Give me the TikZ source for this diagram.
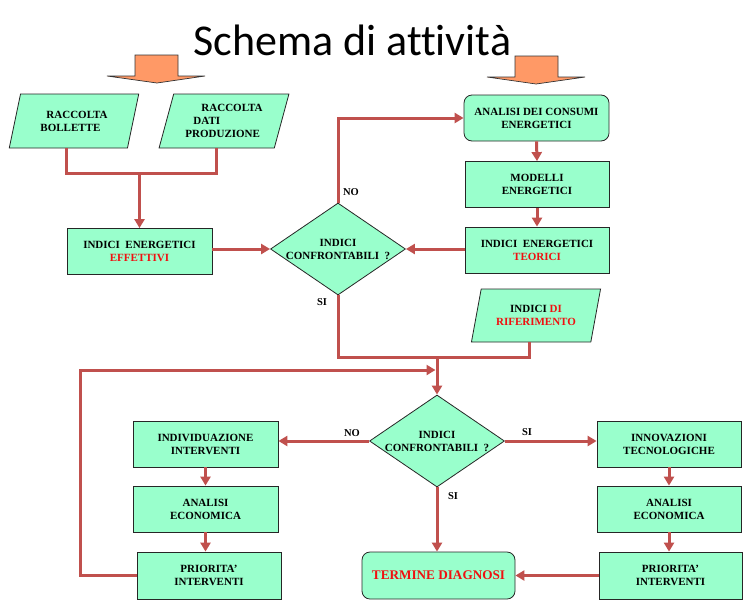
\documentclass[tikz,border=0pt]{standalone}
\usepackage{fontspec}
\setmainfont{Liberation Serif}
\newfontfamily\titlefont[Ligatures={NoCommon}]{Carlito}
\usetikzlibrary{shapes.geometric,arrows.meta,calc}
\definecolor{mint}{HTML}{99FFCC}
\definecolor{linkc}{HTML}{C0504D}
\definecolor{orng}{HTML}{FF9966}
\definecolor{txtred}{HTML}{F01010}
\begin{document}
\begin{tikzpicture}[x=1pt,y=-1pt,
 box/.style={draw=black!85, line width=0.8pt, fill=mint, minimum width=145pt, minimum height=46pt, inner sep=1pt, align=center, font=\fontsize{11}{13}\selectfont\bfseries},
 rbox/.style={box, rounded corners=8pt},
 para/.style={box, trapezium, trapezium left angle=72, trapezium right angle=108, trapezium stretches=true, minimum width=130pt, minimum height=54pt},
 dia/.style={box, diamond, minimum width=135pt, minimum height=92pt, inner sep=0pt, aspect=1.47},
 link/.style={draw=linkc, line width=3pt},
 arr/.style={link, -{Triangle[length=9pt,width=10pt]}},
 lbl/.style={font=\fontsize{10.5}{12}\selectfont\bfseries},
 bigarrow/.style={draw=black!80, line width=0.7pt, fill=orng, line join=miter},
]
\useasboundingbox (0,0) rectangle (743,600);
\fill[white] (0,0) rectangle (743,600);

% title
\node[font=\titlefont\fontsize{44}{50}\selectfont, anchor=base west, inner sep=0pt] (title) at (193,55) {Schema di attività};

% orange input arrows
\draw[bigarrow] (135,55) -- (178,55) -- (178,76) -- (205,76) -- (157,83) -- (107,76) -- (135,76) -- cycle;
\draw[bigarrow] (515,56) -- (558,56) -- (558,77) -- (585,77) -- (536,84) -- (487,77) -- (515,77) -- cycle;

% upper part
\node[para, align=left] (p1) at (74,121) {\hspace*{6pt}RACCOLTA\\BOLLETTE};
\node[para, align=left] (p2) at (224,121) {\hspace*{16pt}RACCOLTA\\\hspace*{8pt}DATI\\PRODUZIONE};
\node[box] (eff) at (139.5,251.5) {INDICI\ \ ENERGETICI\\\textcolor{txtred}{EFFETTIVI}};
\node[dia] (d1) at (338,249) {INDICI\\CONFRONTABILI\ \ ?};
\node[rbox, minimum width=145pt] (an) at (536.5,118) {ANALISI DEI CONSUMI\\ENERGETICI};
\node[box, minimum width=144pt] (mod) at (537,184.5) {MODELLI\\ENERGETICI};
\node[box, minimum width=144pt] (teo) at (537,250) {INDICI\ \ ENERGETICI\\\textcolor{txtred}{TEORICI}};
\node[para, minimum height=53pt] (rif) at (536,315.5) {INDICI \textcolor{txtred}{DI}\\\textcolor{txtred}{RIFERIMENTO}};

% lower part
\node[dia] (d2) at (437,441) {INDICI\\CONFRONTABILI\ \ ?};
\node[box] (ind) at (205.5,444) {INDIVIDUAZIONE\\INTERVENTI};
\node[box] (ae1) at (205.5,509) {ANALISI\\ECONOMICA};
\node[box, minimum width=144pt, minimum height=47pt] (pr1) at (209,575.5) {PRIORITA'\\INTERVENTI};
\node[box, minimum width=144pt] (inn) at (669,444) {INNOVAZIONI\\TECNOLOGICHE};
\node[box, minimum width=144pt] (ae2) at (669,509) {ANALISI\\ECONOMICA};
\node[box, minimum width=143pt, minimum height=47pt] (pr2) at (670.5,575.5) {PRIORITA'\\INTERVENTI};
\node[rbox, minimum width=153pt, minimum height=47pt, font=\fontsize{13.2}{15}\selectfont\bfseries] (term) at (438.5,575.5) {\textcolor{txtred}{TERMINE DIAGNOSI}};

% labels
\node[lbl] (no1) at (351,192) {NO};
\node[lbl] (si1) at (322,302) {SI};
\node[lbl] (no2) at (352,433) {NO};
\node[lbl] (si2) at (527,432) {SI};
\node[lbl] (si3) at (453,496) {SI};

% connectors
\coordinate (j1) at (139.5,173);
\draw[link] ([xshift=58pt]p1.bottom left corner) |- (j1) -| ([xshift=58pt]p2.bottom left corner);
\draw[arr] (j1) -- (eff.north);
\draw[arr] (eff.east |- d1.west) -- (d1.west);
\draw[arr] (d1.north) |- (an.west);
\draw[arr] (an.south) -- (mod.north);
\draw[arr] (mod.south) -- (teo.north);
\draw[arr] (teo.west |- d1.east) -- (d1.east);

\coordinate (j2) at (437,357);
\draw[link] (d1.south) |- (j2);
\draw[link] ([xshift=59pt]rif.bottom left corner) |- (j2);
\draw[arr] (j2) -- (d2.north);
\coordinate (lp) at (80,370);
\coordinate (j3) at (437,370);
\draw[arr, shorten >=1.5pt] (pr1.west) -| (lp) -- (j3);

\draw[arr] (d2.west) -- (d2.west -| ind.east);
\draw[arr] (d2.east) -- (d2.east -| inn.west);
\draw[arr] (d2.south) -- (d2.south |- term.north);
\draw[arr] (ind.south) -- (ae1.north);
\draw[arr] (ae1.south) -- (ae1.south |- pr1.north);
\draw[arr] (inn.south) -- (ae2.north);
\draw[arr] (ae2.south) -- (ae2.south |- pr2.north);
\draw[arr] (pr2.west) -- (term.east);
\end{tikzpicture}
\end{document}
